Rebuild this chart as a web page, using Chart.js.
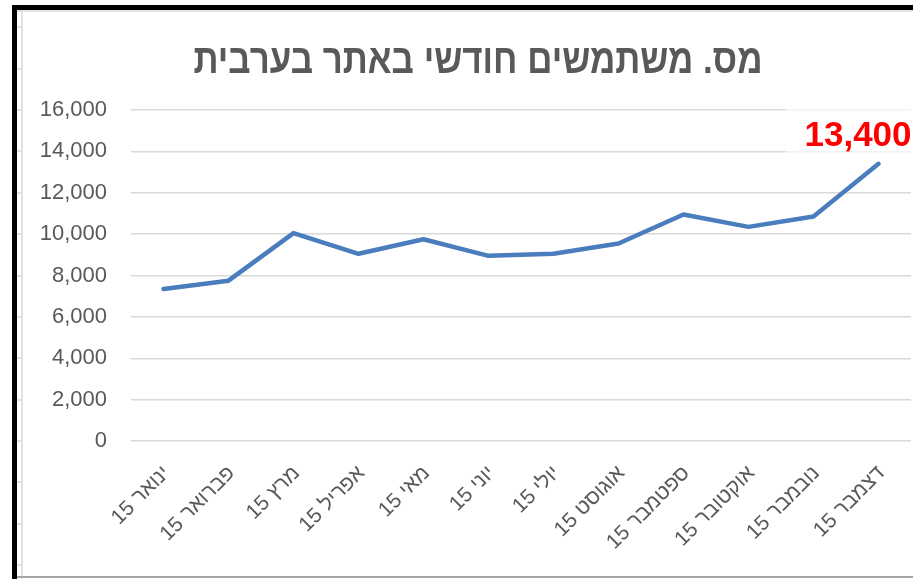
<!DOCTYPE html>
<html>
<head>
<meta charset="utf-8">
<script src="https://cdn.jsdelivr.net/npm/chart.js@4/dist/chart.umd.min.js"></script>
<style>
  html, body { margin: 0; padding: 0; background: #fff; }
  #wrap { position: relative; width: 913px; height: 579px; }
</style>
</head>
<body>
<div id="wrap"><canvas id="usersChart" dir="rtl"></canvas></div>
<script>
// monthly users, hebrew site in arabic
const months = ["ינואר 15", "פברואר 15", "מרץ 15", "אפריל 15", "מאי 15", "יוני 15",
                "יולי 15", "אוגוסט 15", "ספטמבר 15", "אוקטובר 15", "נובמבר 15", "דצמבר 15"];
const users = [7350, 7750, 10050, 9050, 9750, 8950, 9050, 9550, 10950, 10350, 10850, 13400];
const yTicks = [0, 2000, 4000, 6000, 8000, 10000, 12000, 14000, 16000];
const chartTitle = "מס. משתמשים חודשי באתר בערבית";

const grey = "#595959";

// frame of the screenshot (black border top/left, grey lines)
const framePlugin = {
    id: "frame",
    beforeDraw(chart) {
        const ctx = chart.ctx;
        const w = chart.width, h = chart.height;
        ctx.save();
        ctx.fillStyle = "#e2e2e2";
        ctx.fillRect(17, 10, w - 17, 2);
        ctx.fillRect(21, 10, 2, h - 10);
        const yScale = chart.scales.y;
        const step = yScale.getPixelForValue(0) - yScale.getPixelForValue(2000);
        for (let y = yScale.getPixelForValue(0) + 3 * step; y > 12; y -= step) {
            ctx.fillRect(17, Math.round(y) - 1, 4, 2);
        }
        ctx.fillStyle = "#a6a6a6";
        ctx.fillRect(17, h - 3, w - 17, 2);
        ctx.fillStyle = "#000";
        ctx.fillRect(12, 5, w - 12, 5);
        ctx.fillRect(12, 5, 5, h - 5);
        ctx.restore();
    }
};

// condensed looking title
const titlePlugin = {
    id: "hebTitle",
    beforeDraw(chart) {
        const ctx = chart.ctx;
        ctx.save();
        ctx.font = "bold 41px 'Liberation Sans'";
        ctx.fillStyle = grey;
        ctx.textAlign = "center";
        ctx.textBaseline = "alphabetic";
        const tw = ctx.measureText(chartTitle).width;
        const sx = 569 / tw;
        ctx.translate(478, 73);
        ctx.scale(sx, 1);
        ctx.fillText(chartTitle, 0, 0);
        ctx.restore();
    }
};

// red label on last point
const lastLabelPlugin = {
    id: "lastLabel",
    beforeDatasetsDraw(chart) {
        const pt = chart.getDatasetMeta(0).data[users.length - 1];
        const ctx = chart.ctx;
        ctx.save();
        ctx.fillStyle = "rgba(255,255,255,0.65)";
        ctx.fillRect(pt.x - 93, pt.y - 63, chart.width - (pt.x - 93), 60);
        ctx.restore();
    },
    afterDatasetsDraw(chart) {
        const pt = chart.getDatasetMeta(0).data[users.length - 1];
        const ctx = chart.ctx;
        ctx.save();
        ctx.font = "bold 35px 'Liberation Sans'";
        ctx.fillStyle = "#ff0000";
        ctx.textAlign = "left";
        ctx.textBaseline = "alphabetic";
        ctx.direction = "ltr";
        ctx.fillText(users[users.length - 1].toLocaleString("en-US"), pt.x - 74, pt.y - 18);
        ctx.restore();
    }
};

const ctx = document.getElementById("usersChart").getContext("2d");
const usersChart = new Chart(ctx, {
    type: "line",
    data: {
        labels: months,
        datasets: [{
            data: users,
            borderColor: "#4a7dbd",
            borderWidth: 4.5,
            tension: 0,
            pointRadius: 0,
            fill: false,
            borderCapStyle: "round",
            borderJoinStyle: "round"
        }]
    },
    options: {
        responsive: true,
        maintainAspectRatio: false,
        animation: false,
        layout: { padding: { left: 0, right: 2, top: 110, bottom: 0 } },
        plugins: {
            legend: { display: false },
            title: { display: false },
            tooltip: { enabled: false }
        },
        scales: {
            x: {
                offset: true,
                grid: { display: false },
                border: { display: false },
                ticks: {
                    color: grey,
                    font: { family: "'Liberation Sans'", size: 21 },
                    minRotation: 45,
                    maxRotation: 45,
                    autoSkip: false,
                    padding: 12,
                    labelOffset: 3
                },
                afterFit(scale) { scale.height = 138; }
            },
            y: {
                min: 0,
                max: 16000,
                afterBuildTicks(scale) { scale.ticks = yTicks.map(v => ({ value: v })); },
                grid: { color: "#d9d9d9", lineWidth: 1.5, drawTicks: false },
                border: { display: false },
                ticks: {
                    color: grey,
                    font: { family: "'Liberation Sans'", size: 22 },
                    padding: 24,
                    callback: function(value) {
                        return value.toLocaleString("en-US");
                    }
                },
                afterFit(scale) { scale.width = 131; }
            }
        }
    },
    plugins: [framePlugin, titlePlugin, lastLabelPlugin]
});
</script>
</body>
</html>
